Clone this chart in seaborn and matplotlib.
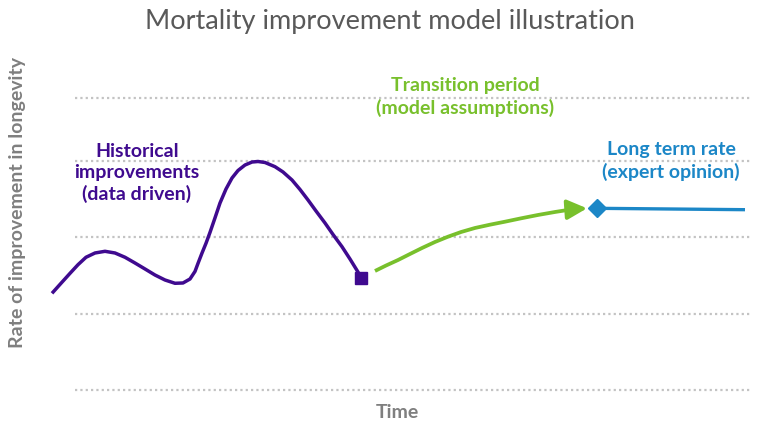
import matplotlib
matplotlib.use("Agg")
import matplotlib.pyplot as plt
import seaborn as sns
import pandas as pd

# ---- data (time units, rate units) ----
hist_t = [0, 9, 18, 26, 34, 43, 53, 63, 73, 83, 93, 103, 113, 123, 131, 138, 143, 146,
          150, 154, 158, 163, 168, 174, 180, 186, 193, 200, 206,
          213, 223, 231, 240, 248, 256, 264, 273, 281, 290, 298, 306, 309]
hist_y = [1.264, 1.395, 1.525, 1.638, 1.735, 1.791, 1.813, 1.791, 1.735, 1.660,
          1.582, 1.503, 1.438, 1.395, 1.399, 1.451, 1.550, 1.655,
          1.790, 1.918, 2.060, 2.250, 2.444, 2.627, 2.771, 2.869,
          2.941, 2.980, 2.987, 2.974, 2.919, 2.850, 2.745, 2.621, 2.484, 2.340,
          2.183, 2.033, 1.873, 1.712, 1.542, 1.464]

trans_t = [323, 334, 346, 358, 370, 383, 396, 409, 423, 438, 453, 469, 486, 503, 520, 535]
trans_y = [1.556, 1.627, 1.699, 1.778, 1.856, 1.935, 2.004, 2.065, 2.118, 2.161,
           2.200, 2.244, 2.288, 2.327, 2.362, 2.375]

long_t = [545, 693]
long_y = [2.375, 2.357]

grid_levels = [0, 1, 2, 3, 3.82]

title = "Mortality improvement model illustration"
xlabel = "Time"
ylabel = "Rate of improvement in longevity"
hist_label = "Historical\nimprovements\n(data driven)"
trans_label = "Transition period\n(model assumptions)"
long_label = "Long term rate\n(expert opinion)"

PURPLE = "#3f0a8f"
GREEN = "#78c02c"
BLUE = "#1c87c7"
GRID = "#c3c3c3"
GRAY_T = "#595959"
GRAY_L = "#7f7f7f"

sns.set_theme(style="white")
plt.rcParams["font.family"] = ["Lato", "DejaVu Sans"]
plt.rcParams["lines.solid_joinstyle"] = "round"
plt.rcParams["lines.solid_capstyle"] = "butt"

W, H = 770, 430
fig = plt.figure(figsize=(W / 100, H / 100), dpi=100)
L, R, T, B = 40, 760, 50, 400
ax = fig.add_axes([L / W, (H - B) / H, (R - L) / W, (B - T) / H])

ax.set_xlim(-12, 708)
ax.set_ylim((390 - 400) / 76.5, (390 - 50) / 76.5)

# gridlines
ax.hlines(grid_levels, 23, 700, colors=GRID, linestyles=(0, (1, 1.4)), lw=1.6, zorder=0)

hist = pd.DataFrame({"t": hist_t, "y": hist_y})
trans = pd.DataFrame({"t": trans_t, "y": trans_y})
lng = pd.DataFrame({"t": long_t, "y": long_y})

sns.lineplot(data=hist, x="t", y="y", ax=ax, color=PURPLE, lw=2.5, sort=False)
ax.plot(hist_t[-1], hist_y[-1], marker="s", ms=9, color=PURPLE, zorder=5)

sns.lineplot(data=trans.iloc[:-1], x="t", y="y", ax=ax, color=GREEN, lw=2.7, sort=False)
ax.annotate("", xy=(trans_t[-1], trans_y[-1]), xytext=(trans_t[-2], trans_y[-2]),
            arrowprops=dict(arrowstyle="-|>,head_length=1.0,head_width=0.5",
                            color=GREEN, lw=2.7, mutation_scale=12, shrinkA=0, shrinkB=0))

sns.lineplot(data=lng, x="t", y="y", ax=ax, color=BLUE, lw=2.4, sort=False)
ax.plot(long_t[0], long_y[0], marker="D", ms=9, color=BLUE, zorder=5)

# annotations
ax.text(85, 2.837, hist_label, color=PURPLE, fontsize=14, fontweight="bold",
        ha="center", va="center", linespacing=1.3)
ax.text(413, 3.83, trans_label, color=GREEN, fontsize=14, fontweight="bold",
        ha="center", va="center", linespacing=1.3)
ax.text(619, 2.993, long_label, color=BLUE, fontsize=14, fontweight="bold",
        ha="center", va="center", linespacing=1.3)

for s in ax.spines.values():
    s.set_visible(False)
ax.set_xticks([])
ax.set_yticks([])
ax.set_xlabel("")
ax.set_ylabel("")

fig.text(390 / W, 1 - 22 / H, title, color=GRAY_T, fontsize=19.5, ha="center", va="center")
fig.text(397 / W, 1 - 413 / H, xlabel, color=GRAY_L, fontsize=14, fontweight="bold",
         ha="center", va="center")
fig.text(18 / W, 1 - 203 / H, ylabel, color=GRAY_L, fontsize=14, fontweight="bold",
         ha="center", va="center", rotation=90)

fig.savefig("out.png", dpi=100)
